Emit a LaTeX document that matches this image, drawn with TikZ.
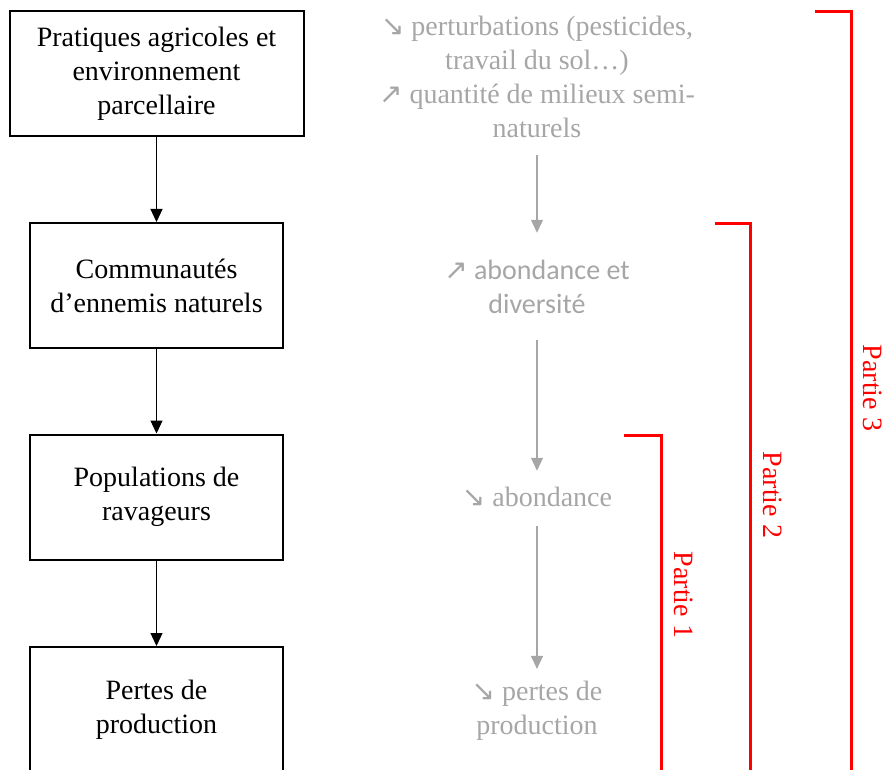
\documentclass[tikz,border=0pt]{standalone}
\usepackage{fontspec}
\setmainfont{Liberation Serif}
\newfontfamily\calibrifont{Carlito}
\newfontfamily\symbfont{DejaVu Sans}
\usetikzlibrary{arrows.meta}
\definecolor{grisclair}{HTML}{A6A6A6}
\newcommand{\seArrow}{{\symbfont\char"2198}}
\newcommand{\neArrow}{{\symbfont\char"2197}}
\tikzset{
  etape/.style={draw, line width=1pt, minimum width=126.5pt, minimum height=62.5pt,
    align=center, inner sep=0pt, font=\fontsize{14}{17}\selectfont},
  effet/.style={text=grisclair, align=center, inner sep=0pt, font=\fontsize{14}{17}\selectfont},
  fleche/.style={-{Triangle[length=6.5pt,width=6pt]}, line width=0.6pt},
  flechegrise/.style={fleche, draw=grisclair, fill=grisclair},
  partie/.style={draw=red, line width=1.5pt},
}
\begin{document}
\begin{tikzpicture}[x=0.5pt,y=-0.5pt]
  \useasboundingbox (0,0) rectangle (883,770);
  % chaine de gauche
  \node[etape, minimum width=147pt] (b1) at (156.5,73.5) {Pratiques agricoles et\\environnement\\parcellaire};
  \node[etape] (b2) at (156.5,285.5) {Communautés\\d’ennemis naturels};
  \node[etape] (b3) at (156.5,497) {Populations de\\ravageurs};
  \node[etape] (b4) at (156.5,709.5) {Pertes de\\production};
  \draw[fleche] (b1) -- (b2);
  \draw[fleche] (b2) -- (b3);
  \draw[fleche] (b3) -- (b4);

  % effets
  \node[effet] (g1) at (537,77) {\seArrow\ perturbations (pesticides,\\travail du sol…)\\\neArrow\ quantité de milieux semi-\\naturels};
  \node[effet, font=\fontsize{14}{17}\calibrifont] (g2) at (537,287) {\neArrow\ abondance et\\diversité};
  \node[effet] (g3) at (537,497) {\seArrow\ abondance};
  \node[effet] (g4) at (537,711) {\seArrow\ pertes de\\production};
  \draw[flechegrise, shorten <=8.5pt, shorten >=13.5pt] (g1) -- (g2);
  \draw[flechegrise, shorten <=13pt, shorten >=8pt] (g2) -- (g3);
  \draw[flechegrise, shorten <=9.5pt, shorten >=6pt] (g3) -- (g4);

  % parties
  \draw[partie] (624,435) -| (661,790);
  \draw[partie] (715,224) -| (750,790);
  \draw[partie] (815,12) -| (851,790);
  \node[rotate=-90, text=red, font=\fontsize{14}{17}\selectfont] (p1) at (684,595) {Partie 1};
  \node[rotate=-90, text=red, font=\fontsize{14}{17}\selectfont] (p2) at (773,495) {Partie 2};
  \node[rotate=-90, text=red, font=\fontsize{14}{17}\selectfont] (p3) at (873,388) {Partie 3};
\end{tikzpicture}
\end{document}
